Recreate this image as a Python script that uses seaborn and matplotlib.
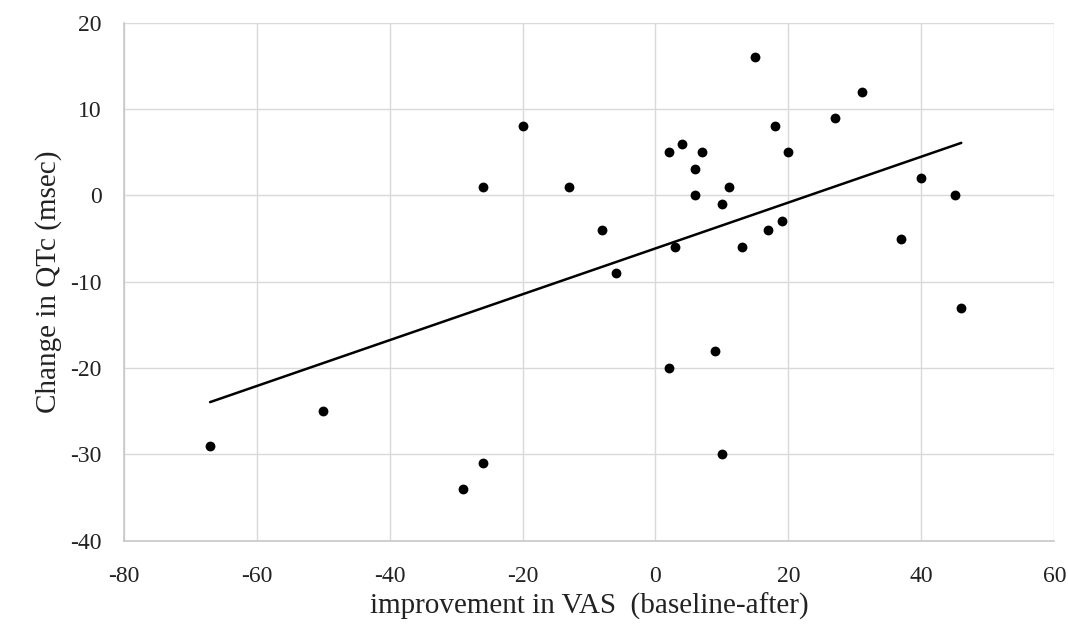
import pandas as pd
import seaborn as sns
import matplotlib.pyplot as plt

vas_improvement = [-20, -26, -13, -8, -6, 15, 31, 27, 18, 2, 4, 7, 20, 6, 6, 11,
                   10, 40, 45, 19, 17, 3, 13, 37, 46, 9, 2, 10, -67, -50, -26, -29]
qtc_change = [8, 1, 1, -4, -9, 16, 12, 9, 8, 5, 6, 5, 5, 3, 0, 1,
              -1, 2, 0, -3, -4, -6, -6, -5, -13, -18, -20, -30, -29, -25, -31, -34]
x_ticks = [-80, -60, -40, -20, 0, 20, 40, 60]
y_ticks = [-40, -30, -20, -10, 0, 10, 20]

df = pd.DataFrame({"VAS": vas_improvement, "QTc": qtc_change})

sns.set_style("white")
plt.rcParams["font.family"] = ["Liberation Serif", "DejaVu Serif"]
plt.rcParams["axes.unicode_minus"] = False

fig, ax = plt.subplots(figsize=(10.68, 6.28), dpi=100)
fig.subplots_adjust(left=0.1158, right=0.9872, top=0.9639, bottom=0.139)

sns.regplot(x="VAS", y="QTc", data=df, ci=None, ax=ax,
            scatter_kws=dict(s=50, color="black", linewidths=0, alpha=1),
            line_kws=dict(color="black", lw=1.8))

ax.set_xlim(-80, 60)
ax.set_ylim(-40, 20)
ax.set_xticks(x_ticks)
ax.set_yticks(y_ticks)
ax.set_axisbelow(True)
ax.grid(True, color="#d9d9d9", lw=1)
for side in ["top", "right"]:
    ax.spines[side].set_visible(False)
for side in ["left", "bottom"]:
    ax.spines[side].set_color("#c8c8c8")
    ax.spines[side].set_linewidth(1.2)

ax.tick_params(axis="x", length=0, labelsize=17, pad=18, colors="#222222")
ax.tick_params(axis="y", length=0, labelsize=17, pad=16, colors="#222222")
ax.set_xlabel("improvement in VAS  (baseline-after)", fontsize=21, labelpad=4, color="#222222")
ax.set_ylabel("Change in QTc (msec)", fontsize=21, labelpad=6, color="#222222")

plt.savefig("out.png", dpi=100)
